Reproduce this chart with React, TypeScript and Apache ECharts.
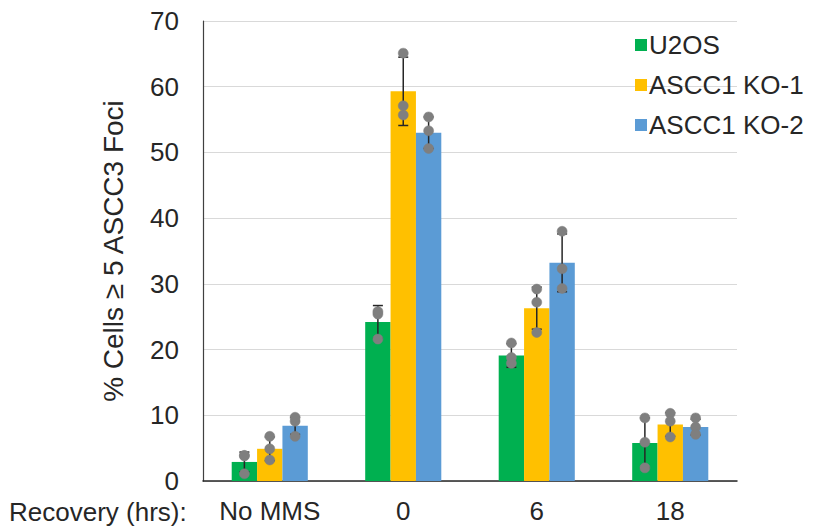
import React, { useEffect, useRef } from "react";
import * as echarts from "echarts";

const categories = ["No MMS", "0", "6", "18"];
const seriesNames = ["U2OS", "ASCC1 KO-1", "ASCC1 KO-2"];
const seriesColors = ["#00B050", "#FFC000", "#5B9BD5"];

const u2osMean = [2.9, 24.2, 19.1, 5.8];
const ko1Mean = [4.9, 59.3, 26.3, 8.6];
const ko2Mean = [8.4, 53.0, 33.2, 8.2];

const u2osSd = [1.5, 2.5, 1.8, 3.8];
const ko1Sd = [1.8, 5.2, 3.2, 1.8];
const ko2Sd = [1.3, 2.4, 4.4, 1.2];

const u2osReps = [[3.8, 3.9, 1.1], [25.4, 25.8, 21.6], [21.0, 18.8, 17.9], [9.6, 5.9, 2.0]];
const ko1Reps = [[6.8, 4.9, 3.2], [65.1, 57.1, 55.7], [29.2, 27.2, 22.6], [10.3, 9.1, 6.7]];
const ko2Reps = [[9.1, 9.7, 6.8], [55.4, 53.3, 50.6], [38.0, 32.3, 29.3], [9.6, 8.2, 7.1]];

const yTicks = [0, 10, 20, 30, 40, 50, 60, 70];
const xAxisTitle = "Recovery (hrs):";
const yAxisTitle = "% Cells ≥ 5 ASCC3 Foci";

const means = [u2osMean, ko1Mean, ko2Mean];
const sds = [u2osSd, ko1Sd, ko2Sd];
const reps = [u2osReps, ko1Reps, ko2Reps];

const FONT = "Liberation Sans, Arial, sans-serif";
const TEXT = "#262626";
const BAR_FRAC = 0.19;

export default function App() {
  const ref = useRef<HTMLDivElement>(null);
  useEffect(() => {
    if (!ref.current) return;
    const chart = echarts.init(ref.current, undefined, { renderer: "svg" });

    const barSeries = seriesNames.map((name, g) => ({
      name,
      type: "bar",
      data: means[g],
      barWidth: BAR_FRAC * 100 + "%",
      barGap: "0%",
      itemStyle: { color: seriesColors[g] },
      z: 2,
    }));

    const errSeries = seriesNames.map((name, g) => ({
      name: name + " err",
      type: "custom",
      z: 5,
      silent: true,
      clip: false,
      encode: { x: 0, y: 1 },
      data: categories.map((c, i) => [i, means[g][i], sds[g][i], ...reps[g][i]]),
      renderItem: (params: any, api: any) => {
        const i = api.value(0);
        const m = api.value(1);
        const sd = api.value(2);
        const bandW = api.size([1, 0])[0];
        const bw = bandW * BAR_FRAC;
        const cx = api.coord([i, m])[0] + (g - 1) * bw;
        const yTop = api.coord([i, m + sd])[1];
        const yBot = api.coord([i, Math.max(0, m - sd)])[1];
        const cap = 5;
        const lineStyle = { stroke: "#262626", lineWidth: 1.5 };
        const children: any[] = [
          { type: "line", shape: { x1: cx, y1: yTop, x2: cx, y2: yBot }, style: lineStyle },
          { type: "line", shape: { x1: cx - cap, y1: yTop, x2: cx + cap, y2: yTop }, style: lineStyle },
          { type: "line", shape: { x1: cx - cap, y1: yBot, x2: cx + cap, y2: yBot }, style: lineStyle },
        ];
        for (let k = 0; k < 3; k++) {
          const v = api.value(3 + k);
          const p = api.coord([i, v]);
          children.push({
            type: "circle",
            shape: { cx, cy: p[1], r: 5 },
            style: { fill: "#7F7F7F", stroke: "#7F7F7F", lineWidth: 0.5 },
          });
        }
        return { type: "group", children };
      },
    }));

    chart.setOption({
      animation: false,
      textStyle: { fontFamily: FONT },
      grid: { left: 203, right: 80, top: 21, bottom: 50, containLabel: false },
      legend: {
        data: seriesNames.map((n) => ({ name: n, icon: "rect" })),
        orient: "vertical",
        left: 630,
        top: 27,
        itemWidth: 12,
        itemHeight: 12,
        itemGap: 14,
        textStyle: { fontSize: 26, color: TEXT, fontFamily: FONT, lineHeight: 26, padding: [0, 0, 0, -3] },
      },
      xAxis: {
        type: "category",
        data: categories,
        axisTick: { show: false },
        axisLine: { lineStyle: { color: "#262626", width: 1.5 } },
        axisLabel: { fontSize: 26, color: TEXT, margin: 17, fontFamily: FONT },
      },
      yAxis: {
        type: "value",
        min: yTicks[0],
        max: yTicks[yTicks.length - 1],
        interval: 10,
        name: yAxisTitle,
        nameLocation: "middle",
        nameGap: 76,
        nameTextStyle: { fontSize: 28, color: TEXT, fontFamily: FONT },
        axisLine: { show: true, lineStyle: { color: "#404040", width: 1.2 } },
        axisTick: { show: false },
        axisLabel: { fontSize: 26, color: TEXT, margin: 24, fontFamily: FONT },
        splitLine: { lineStyle: { color: "#D9D9D9", width: 1.2 } },
      },
      graphic: [
        {
          type: "text",
          left: 9,
          top: 499,
          style: { text: xAxisTitle, font: `26px ${FONT}`, fill: TEXT },
        },
      ],
      series: [...barSeries, ...errSeries],
    });
    return () => chart.dispose();
  }, []);
  return <div ref={ref} style={{ width: 817, height: 531, position: "absolute", left: 0, top: 0, background: "#fff" }} />;
}
